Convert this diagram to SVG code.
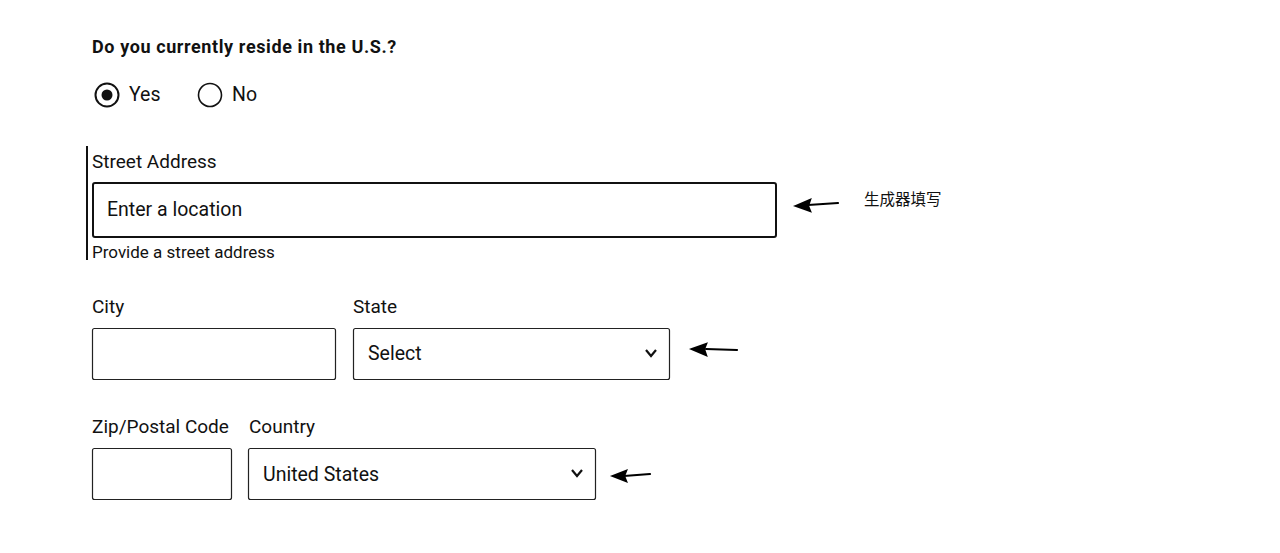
<svg xmlns="http://www.w3.org/2000/svg" width="1280" height="553" viewBox="0 0 1280 553">
<style>
text{font-family:Roboto,"Liberation Sans",sans-serif;fill:#111}
.lbl{font-size:19px}
.val{font-size:19.5px}
.box{fill:#fff;stroke:#222;stroke-width:1.2}
.chev{fill:none;stroke:#111;stroke-width:2.2}
.arr{fill:#000;stroke:#000;stroke-width:2.2;stroke-linecap:round}
</style>
<rect width="1280" height="553" fill="#fff"/>
<g id="question">
<text x="92" y="53" style="font-size:18px;font-weight:bold;letter-spacing:0.6px">Do you currently reside in the U.S.?</text>
</g>
<g id="radio-yes">
<circle cx="107" cy="95" r="11.5" fill="none" stroke="#111" stroke-width="2"/>
<circle cx="107" cy="95" r="5.5" fill="#111"/>
<text x="129" y="101" class="val">Yes</text>
</g>
<g id="radio-no">
<circle cx="210" cy="95" r="11.5" fill="none" stroke="#111" stroke-width="1.6"/>
<text x="232" y="101" class="val">No</text>
</g>
<g id="street">
<line x1="87" y1="146" x2="87" y2="260" stroke="#111" stroke-width="2"/>
<text x="92" y="168" class="lbl">Street Address</text>
<rect x="93" y="183" width="683" height="54" rx="2" fill="#fff" stroke="#111" stroke-width="2"/>
<text x="107" y="216" class="val">Enter a location</text>
<text x="92" y="258" style="font-size:17px">Provide a street address</text>
</g>
<g id="city">
<text x="92" y="313" class="lbl">City</text>
<rect x="92.5" y="328.5" width="243" height="51" rx="2" class="box"/>
</g>
<g id="state">
<text x="353" y="313" class="lbl">State</text>
<rect x="353.5" y="328.5" width="316" height="51" rx="2" class="box"/>
<text x="368" y="360" class="val">Select</text>
<polyline points="646,350 651,356 656,350" class="chev"/>
</g>
<g id="zip">
<text x="92" y="433" class="lbl">Zip/Postal Code</text>
<rect x="92.5" y="448.5" width="139" height="51" rx="2" class="box"/>
</g>
<g id="country">
<text x="249" y="433" class="lbl">Country</text>
<rect x="248.5" y="448.5" width="347" height="51" rx="2" class="box"/>
<text x="263" y="481" class="val">United States</text>
<polyline points="572,470 577,476 582,470" class="chev"/>
</g>
<g id="note">
<text x="864" y="205" style="font-size:15.5px;font-family:'Noto Sans CJK SC',sans-serif">生成器填写</text>
</g>
<g id="connectors">
<path d="M838,203 L808,205" class="arr"/>
<path d="M796,206 L810,200 L808,206 L810,211 Z" class="arr"/>
<path d="M737,350 L706,349" class="arr"/>
<path d="M692,349 L706,344 L704,349 L706,355 Z" class="arr"/>
<path d="M650,474 L624,476" class="arr"/>
<path d="M613,476 L626,471 L624,476 L626,481 Z" class="arr"/>
</g>
</svg>
